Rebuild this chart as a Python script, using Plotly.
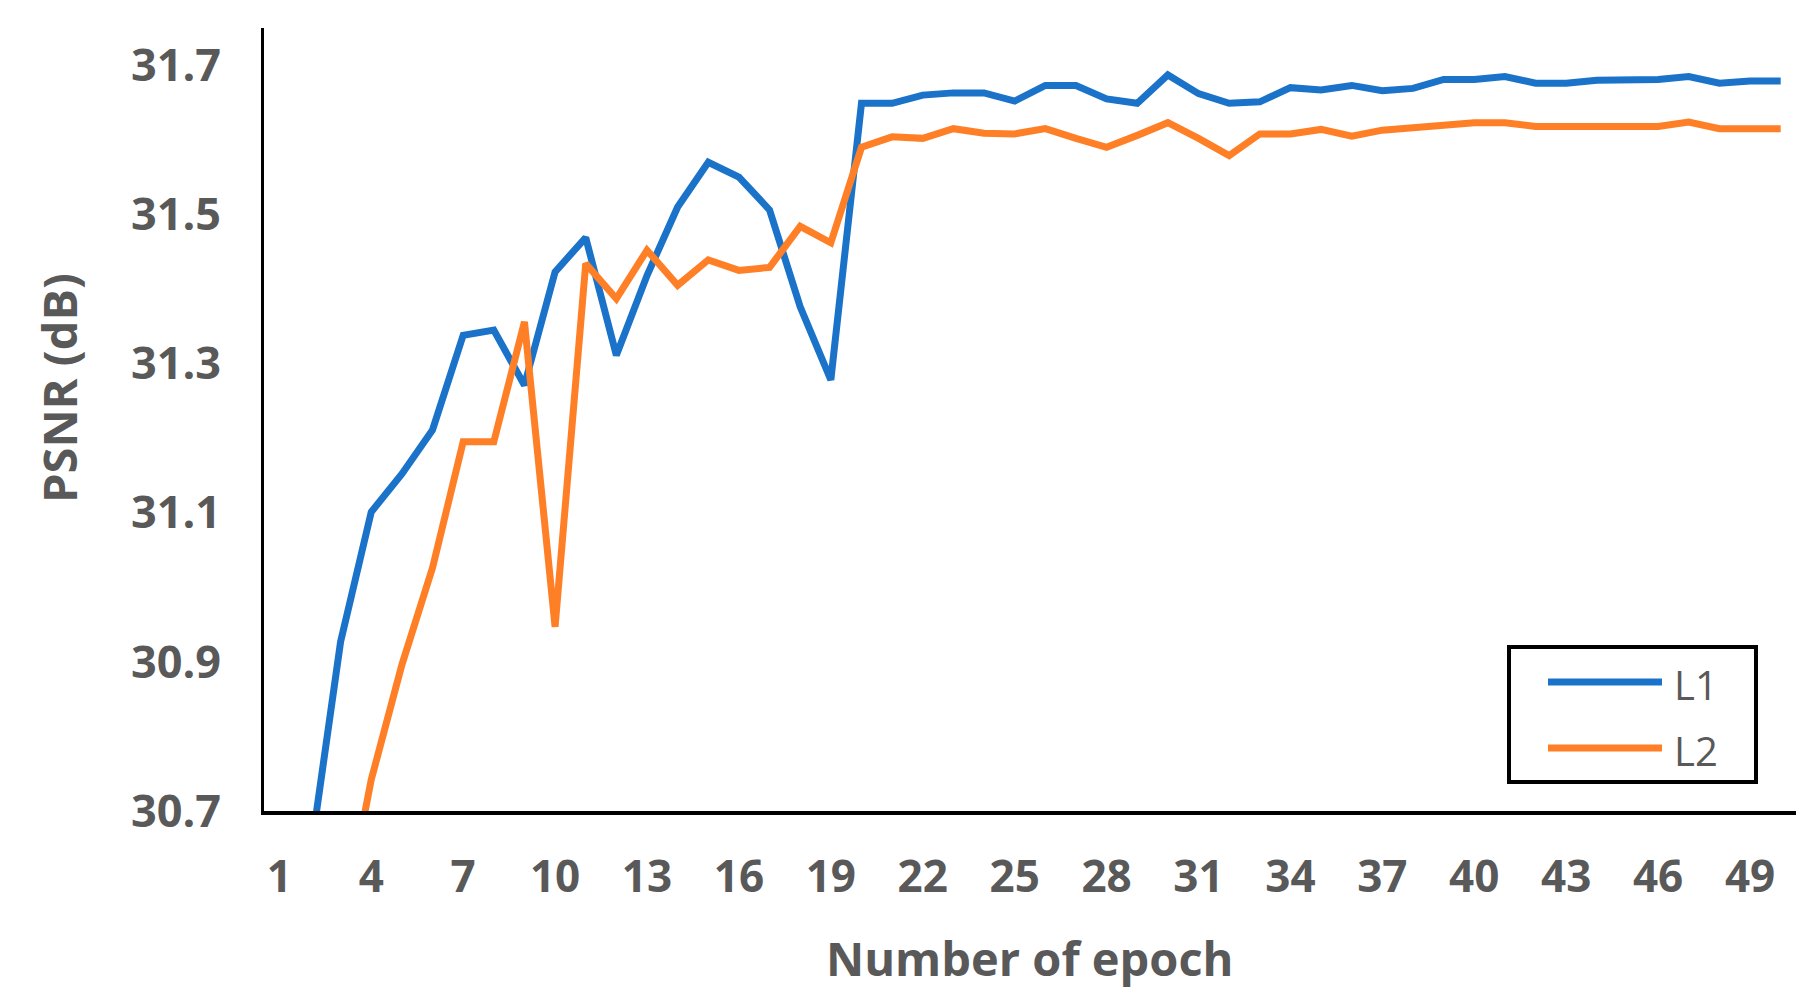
import plotly.graph_objects as go

epochs = list(range(1, 51))

l1_psnr = [None, 30.637, 30.927, 31.101, 31.152, 31.211, 31.338, 31.345, 31.271, 31.423,
           31.469, 31.311, 31.418, 31.510, 31.570, 31.550, 31.506, 31.376, 31.278, 31.649,
           31.649, 31.660, 31.663, 31.663, 31.652, 31.673, 31.673, 31.655, 31.649, 31.687,
           31.662, 31.649, 31.651, 31.670, 31.667, 31.673, 31.666, 31.669, 31.681, 31.681,
           31.685, 31.676, 31.676, 31.680, 31.681, 31.681, 31.685, 31.676, 31.679, 31.679]

l2_psnr = [None, None, 30.530, 30.742, 30.896, 31.026, 31.195, 31.195, 31.356, 30.947,
           31.434, 31.387, 31.452, 31.405, 31.439, 31.425, 31.429, 31.484, 31.462, 31.590,
           31.604, 31.602, 31.615, 31.609, 31.608, 31.615, 31.602, 31.590, 31.606, 31.623,
           31.602, 31.579, 31.608, 31.608, 31.614, 31.605, 31.613, 31.616, 31.618, 31.623,
           31.623, 31.618, 31.618, 31.618, 31.618, 31.618, 31.624, 31.615, 31.615, 31.615]

x_ticks = list(range(1, 50, 3))
y_ticks = [30.7, 30.9, 31.1, 31.3, 31.5, 31.7]
series_names = ["L1", "L2"]
colors = ["#1A73C9", "#FF7F27"]

W, H = 1815, 1004
L, R, T, B = 264, 19, 28, 193
pw, ph = W - L - R, H - T - B

def px(xp):
    return (xp - L) / pw

def py(yp):
    return (H - B - yp) / ph

grey = "#595959"
fig = go.Figure()
for name, vals, c in zip(series_names, [l1_psnr, l2_psnr], colors):
    fig.add_trace(go.Scatter(x=epochs, y=vals, mode="lines", name=name,
                             line=dict(color=c, width=7), showlegend=False))

fig.update_layout(
    width=W, height=H,
    margin=dict(l=L, r=R, t=T, b=B, autoexpand=False),
    plot_bgcolor="white", paper_bgcolor="white",
    xaxis=dict(range=[0.5, 50.5], tickmode="array", tickvals=x_ticks,
               ticktext=[str(t) for t in x_ticks], showgrid=False, zeroline=False,
               showline=True, linecolor="black", linewidth=4, ticks="",
               ticklabelstandoff=24, automargin=False,
               tickfont=dict(family="Open Sans", size=44, color=grey, weight="bold")),
    yaxis=dict(range=[30.7, 31.75], tickmode="array", tickvals=y_ticks,
               ticktext=[f"{v:.1f}" for v in y_ticks], showgrid=False, zeroline=False,
               showline=True, linecolor="black", linewidth=3, ticks="",
               ticklabelstandoff=31, automargin=False,
               tickfont=dict(family="Open Sans", size=45, color=grey, weight="bold")),
)

# axis titles
fig.add_annotation(text="Number of epoch", xref="paper", yref="paper",
                   x=0.5, y=py(958), xanchor="center", yanchor="middle", showarrow=False,
                   font=dict(family="Open Sans", size=47, color=grey, weight="bold"))
fig.add_annotation(text="PSNR (dB)", xref="paper", yref="paper", textangle=-90,
                   x=px(59), y=py(388), xanchor="center", yanchor="middle", showarrow=False,
                   font=dict(family="Open Sans", size=47, color=grey, weight="bold"))

# legend box
fig.add_shape(type="rect", xref="paper", yref="paper",
              x0=px(1509), x1=px(1756), y0=py(782), y1=py(647),
              line=dict(color="black", width=4), fillcolor="white", layer="above")
for i, (name, c) in enumerate(zip(series_names, colors)):
    yl = 682 + i * 66
    fig.add_shape(type="line", xref="paper", yref="paper",
                  x0=px(1548), x1=px(1662), y0=py(yl), y1=py(yl),
                  line=dict(color=c, width=7), layer="above")
    fig.add_annotation(text=name, xref="paper", yref="paper",
                       x=px(1672), y=py(yl + 2), xanchor="left", yanchor="middle",
                       showarrow=False,
                       font=dict(family="Open Sans", size=40, color=grey))

fig.write_html("out.html", config={"displayModeBar": False},
               post_script="document.body.style.margin='0';")
